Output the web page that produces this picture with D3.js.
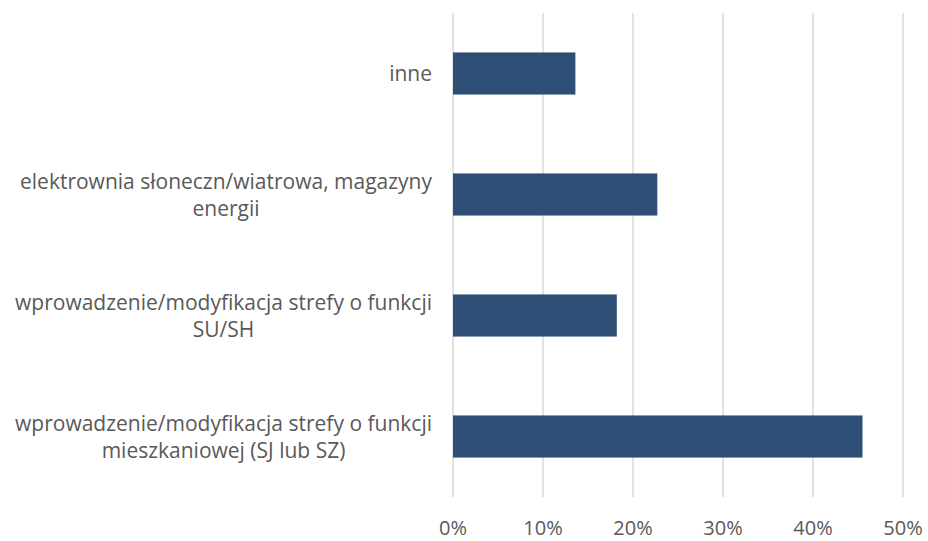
<!DOCTYPE html>
<html><head><meta charset="utf-8">
<script src="https://cdn.jsdelivr.net/npm/d3@7"></script>
<style>body{margin:0;background:#fff}svg{display:block}</style>
</head><body><svg id="c" width="928" height="541"></svg>
<script>
const categories = [
  ["inne"],
  ["elektrownia słoneczn/wiatrowa, magazyny", "energii"],
  ["wprowadzenie/modyfikacja strefy o funkcji", "SU/SH"],
  ["wprowadzenie/modyfikacja strefy o funkcji", "mieszkaniowej (SJ lub SZ)"]
];
const values = [0.136, 0.227, 0.182, 0.455];
const ticks = [0, 0.1, 0.2, 0.3, 0.4, 0.5];
const tickLabels = ["0%", "10%", "20%", "30%", "40%", "50%"];

const svg = d3.select("#c");
const font = "'Open Sans', sans-serif";
const fs = 21;
const tfs = 20;
const x = d3.scaleLinear().domain([0, 0.5]).range([453, 903]);
const keys = categories.map((c, i) => i);
const y = d3.scaleBand().domain(keys).range([13, 497]).paddingInner(0.652).paddingOuter(0.326);

svg.append("g").selectAll("line").data(ticks).join("line")
  .attr("x1", d => x(d)).attr("x2", d => x(d))
  .attr("y1", 13).attr("y2", 497)
  .attr("stroke", "#d9d9d9").attr("stroke-width", 1.5);

svg.append("g").selectAll("rect").data(values).join("rect")
  .attr("x", x(0)).attr("y", (d, i) => y(i))
  .attr("width", d => x(d) - x(0)).attr("height", y.bandwidth())
  .attr("fill", "#2e4e75");

svg.append("g").selectAll("text").data(ticks).join("text")
  .attr("x", d => x(d)).attr("y", 535)
  .attr("text-anchor", "middle")
  .attr("font-family", font).attr("font-size", tfs).attr("fill", "#595959")
  .text((d, i) => tickLabels[i]);

const lh = 27.5;
const lg = svg.append("g");
categories.forEach((lines, i) => {
  const g = lg.append("g");
  const t = g.append("text").attr("font-family", font).attr("font-size", fs).attr("fill", "#595959").attr("text-anchor", "middle");
  const cy = y(i) + y.bandwidth() / 2;
  const n = lines.length;
  lines.forEach((l, k) => {
    t.append("tspan").attr("x", 0).attr("y", cy + (k - (n - 1) / 2) * lh + fs * 0.38).text(l);
  });
  let maxW = 0;
  t.selectAll("tspan").each(function() { maxW = Math.max(maxW, this.getComputedTextLength()); });
  t.attr("transform", `translate(${432 - maxW / 2},0)`);
});
</script></body></html>
